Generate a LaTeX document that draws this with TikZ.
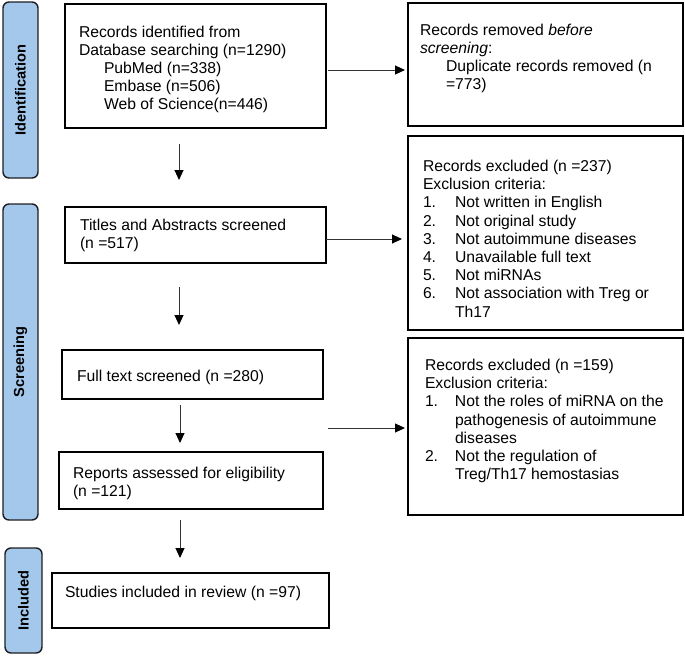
\documentclass[tikz,border=0pt]{standalone}
\usepackage{fontspec}
\setmainfont{Liberation Sans}
\usetikzlibrary{arrows.meta}
\definecolor{barfill}{RGB}{164,200,236}
\definecolor{barline}{RGB}{30,30,34}
\begin{document}
\begin{tikzpicture}[x=1pt,y=-1pt,
  box/.style={draw=black,line width=1.1pt,inner sep=0pt,outer sep=0pt},
  bar/.style={draw=barline,fill=barfill,line width=1.4pt,rounded corners=6pt,inner sep=0pt,outer sep=0pt},
  txt/.style={anchor=base west,inner sep=0pt,outer sep=0pt,font=\fontsize{15.7}{18.2}\selectfont},
  barlabel/.style={rotate=90,font=\fontsize{14.6}{17}\selectfont\bfseries},
  arr/.style={draw=black!80,line width=0.9pt,-{Triangle[length=10pt,width=9pt,color=black]}}
]
\useasboundingbox (0,0) rectangle (685,656);
% side bars
\node[bar,minimum width=35pt,minimum height=176pt] (bid) at (20.5,90) {};
\node[barlabel] (lid) at (bid.center) {Identification};
\node[bar,minimum width=35pt,minimum height=316pt] (bscr) at (20.5,362) {};
\node[barlabel] (lscr) at (bscr.center) {Screening};
\node[bar,minimum width=37pt,minimum height=105pt] (binc) at (23.5,600.5) {};
\node[barlabel] (linc) at (binc.center) {Included};
% boxes
\node[box,minimum width=261pt,minimum height=124pt] (b1) at (195.5,66) {};
\node[box,minimum width=275pt,minimum height=123pt] (b2) at (545.5,64.5) {};
\node[box,minimum width=261pt,minimum height=56pt] (b3) at (195.5,235) {};
\node[box,minimum width=275pt,minimum height=194pt] (b4) at (545.5,233) {};
\node[box,minimum width=261pt,minimum height=49pt] (b5) at (192.5,374.5) {};
\node[box,minimum width=264pt,minimum height=57pt] (b6) at (191,480.5) {};
\node[box,minimum width=275pt,minimum height=177pt] (b7) at (545.5,426.5) {};
\node[box,minimum width=277pt,minimum height=55pt] (b8) at (190.5,600.5) {};
% texts
\node[txt] (t1) at (79,37) {\begin{tabular}[t]{@{}l@{}}Records identified from\\Database searching (n=1290)\\\hspace*{25pt}PubMed (n=338)\\\hspace*{25pt}Embase (n=506)\\\hspace*{25pt}Web of Science(n=446)\end{tabular}};
\node[txt] (t2) at (420,35) {\begin{tabular}[t]{@{}l@{}}Records removed \textit{before}\\\textit{screening}:\\\hspace*{26pt}Duplicate records removed (n\\\hspace*{26pt}=773)\end{tabular}};
\node[txt] (t3) at (80,230.5) {\begin{tabular}[t]{@{}l@{}}Titles and Abstracts screened\\(n =517)\end{tabular}};
\node[txt] (t4) at (423,171.5) {\begin{tabular}[t]{@{}p{32pt}@{}l@{}}\multicolumn{2}{@{}l@{}}{Records excluded (n =237)}\\\multicolumn{2}{@{}l@{}}{Exclusion criteria:}\\1. & Not written in English\\2. & Not original study\\3. & Not autoimmune diseases\\4. & Unavailable full text\\5. & Not miRNAs\\6. & Not association with Treg or\\ & Th17\end{tabular}};
\node[txt] (t5) at (77,381.5) {Full text screened (n =280)};
\node[txt] (t6) at (73,478.3) {\begin{tabular}[t]{@{}l@{}}Reports assessed for eligibility\\(n =121)\end{tabular}};
\node[txt] (t7) at (425,370.5) {\begin{tabular}[t]{@{}p{30pt}@{}l@{}}\multicolumn{2}{@{}l@{}}{Records excluded (n =159)}\\\multicolumn{2}{@{}l@{}}{Exclusion criteria:}\\1. & Not the roles of miRNA on the\\ & pathogenesis of autoimmune\\ & diseases\\2. & Not the regulation of\\ & Treg/Th17 hemostasias\end{tabular}};
\node[txt] (t8) at (65,597) {Studies included in review (n =97)};
% connectors
\coordinate (c57) at (328,428);
\draw[arr] ([xshift=2pt]b1.east |- 0,70) -- ([xshift=-3pt]b2.west |- 0,70);
\draw[arr] (b3.east |- 0,239) -- ([xshift=-6pt]b4.west |- 0,239);
\draw[arr] (c57) -- ([xshift=-3pt]b7.west |- c57);
\draw[arr,shorten <=16pt,shorten >=27pt] (b1.south -| 179,0) -- (b3.north -| 179,0);
\draw[arr,shorten <=24pt,shorten >=25pt] (b3.south -| 179,0) -- (b5.north -| 179,0);
\draw[arr,shorten <=6pt,shorten >=9pt] (b5.south -| 180,0) -- (b6.north -| 180,0);
\draw[arr,shorten <=11pt,shorten >=15pt] (b6.south -| 180,0) -- (b8.north -| 180,0);
\end{tikzpicture}
\end{document}
